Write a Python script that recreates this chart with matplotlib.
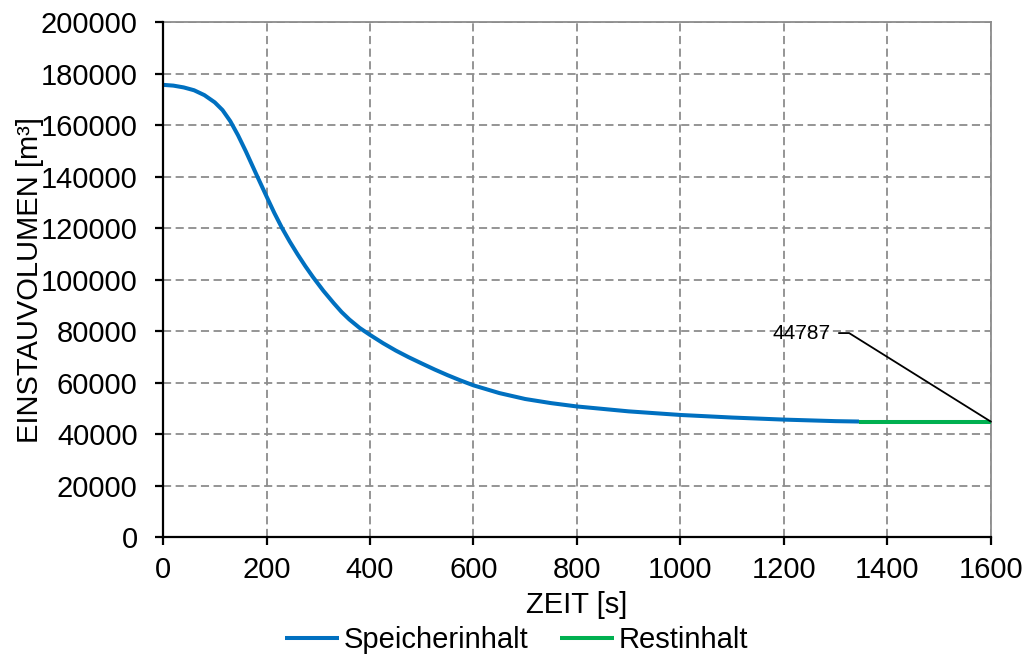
import matplotlib
matplotlib.use("Agg")
import matplotlib.pyplot as plt

plt.rcParams['font.family'] = ['Liberation Sans', 'DejaVu Sans']

# Speicherinhalt (blue curve)
zeit = [0, 20, 40, 60, 80, 100, 115, 130, 145, 160, 180, 200, 215, 230, 245, 260,
        275, 290, 310, 330, 345, 360, 380, 400, 425, 450, 475, 500, 525, 550, 575,
        600, 650, 700, 750, 800, 900, 1000, 1100, 1200, 1300, 1345]
volumen = [175600, 175300, 174600, 173500, 171600, 168800, 165800, 161500, 156000,
           149800, 141000, 132300, 125900, 120000, 114700, 109800, 105200, 100900,
           95600, 90800, 87400, 84500, 81200, 78500, 75300, 72400, 69800, 67400,
           65050, 62850, 60800, 58900, 55900, 53600, 52000, 50700, 48800, 47400,
           46400, 45600, 45000, 44850]

# Restinhalt (green line)
rest_zeit = [1345, 1600]
rest_volumen = [44787, 44787]

label_wert = 44787
x_ticks = [0, 200, 400, 600, 800, 1000, 1200, 1400, 1600]
y_ticks = [0, 20000, 40000, 60000, 80000, 100000, 120000, 140000, 160000, 180000, 200000]

fig = plt.figure(figsize=(10.33, 6.57), dpi=100)
ax = fig.add_axes([0.1578, 0.1826, 0.8015, 0.7839])

ax.plot(zeit, volumen, color='#0070C0', lw=2.9, label='Speicherinhalt', zorder=3,
        solid_capstyle='butt', solid_joinstyle='round')
ax.plot(rest_zeit, rest_volumen, color='#00B050', lw=2.9, label='Restinhalt', zorder=3,
        solid_capstyle='butt')

ax.set_xlim(0, 1600)
ax.set_ylim(0, 200000)
ax.set_xticks(x_ticks)
ax.set_yticks(y_ticks)
ax.set_xticklabels([str(v) for v in x_ticks])
ax.set_yticklabels([str(v) for v in y_ticks])

ax.grid(True, color='#8c8c8c', linestyle=(0, (4.5, 2.5)), lw=1.3)
ax.set_axisbelow(True)

for s in ['left', 'bottom']:
    ax.spines[s].set_color('black')
    ax.spines[s].set_linewidth(1.6)
    ax.spines[s].set_zorder(4)
for s in ['top', 'right']:
    ax.spines[s].set_color('#8c8c8c')
    ax.spines[s].set_linewidth(1.3)

ax.tick_params(axis='both', direction='out', length=5.8, width=1.6, color='black',
               labelsize=21)
ax.tick_params(axis='x', pad=7.6)
ax.tick_params(axis='y', pad=12.5)

ax.set_xlabel('ZEIT [s]', fontsize=21, labelpad=5.5)
ax.set_ylabel('EINSTAUVOLUMEN [m³]', fontsize=21, labelpad=-2.5)

ax.annotate(str(label_wert), xy=(1600, label_wert), xytext=(1290, 79200),
            textcoords='data', ha='right', va='center', fontsize=15,
            arrowprops=dict(arrowstyle='-', color='black', lw=1.3,
                            connectionstyle='angle,angleA=0,angleB=-32,rad=0',
                            shrinkA=4, shrinkB=0),
            zorder=5)

handles, labels = ax.get_legend_handles_labels()
fig.legend(handles, labels, loc='center', bbox_to_anchor=(0.5, 1 - 640 / 657), ncol=2,
           frameon=False, fontsize=21, handlelength=1.85, handletextpad=0.15,
           columnspacing=1.1, borderaxespad=0, borderpad=0)

fig.savefig('out.png', dpi=100)
